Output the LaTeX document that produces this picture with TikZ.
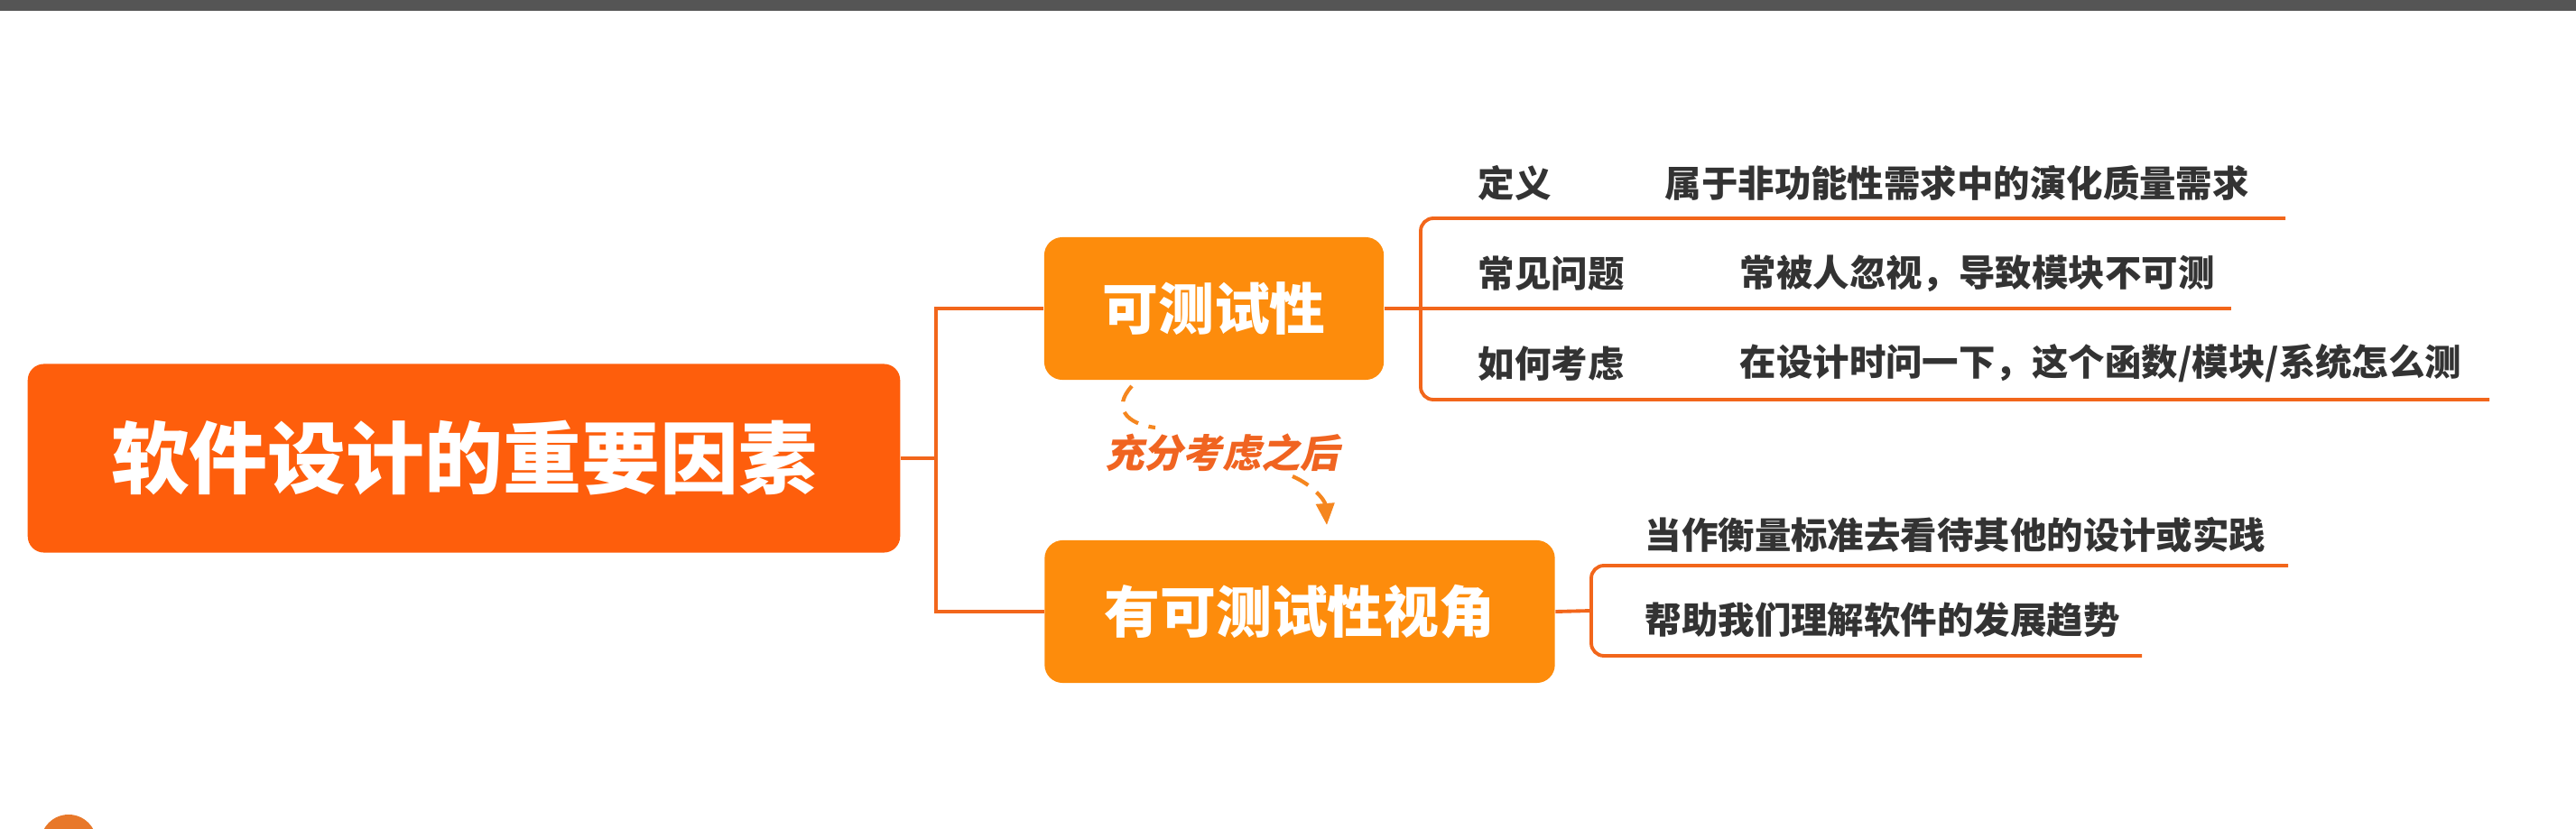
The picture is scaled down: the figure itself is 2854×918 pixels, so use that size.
\documentclass[tikz,border=0pt]{standalone}
\usepackage{fontspec}
\setmainfont{Noto Sans CJK SC}
\newfontfamily\slantcjk[FakeSlant=0.2]{Noto Sans CJK SC}
\usepackage{tikz}
\usetikzlibrary{arrows.meta}
\usepackage{xcolor}
\definecolor{rootorange}{HTML}{FE5E0C}
\definecolor{boxorange}{HTML}{FD8C0C}
\definecolor{lineorange}{HTML}{F2661B}
\definecolor{hintorange}{HTML}{F5861F}
\definecolor{labelorange}{HTML}{F06421}
\definecolor{kidgray}{HTML}{333333}
\definecolor{bargray}{HTML}{555555}
\definecolor{logoorange}{HTML}{E8782A}

\begin{document}
\begin{tikzpicture}[
      x=0.01cm, y=-0.01cm,
      rootbox/.style = {
        rectangle, rounded corners=0.18cm, fill=rootorange,
        minimum width=9.66cm, minimum height=2.09cm, inner sep=0pt,
        font=\fontsize{24.7pt}{28pt}\selectfont\bfseries, text=white
      },
      topicbox/.style = {
        rectangle, rounded corners=0.2cm, fill=boxorange,
        minimum height=1.58cm, inner sep=0pt, text=white,
        font=\fontsize{17.6pt}{20pt}\selectfont\bfseries
      },
      kid/.style = {
        anchor=west, inner sep=0pt,
        font=\fontsize{11.5pt}{14pt}\selectfont\bfseries, text=kidgray
      },
      trunk/.style = {draw=lineorange, line width=1.4pt},
      twig/.style  = {draw=lineorange, line width=1.1pt, rounded corners=0.14cm},
      hint/.style  = {draw=hintorange, line width=1.2pt, dash pattern=on 0.2cm off 0.12cm}
    ]

    \useasboundingbox (0,0) rectangle (2854,918);
    \fill[bargray] (0,0) rectangle (2854,12);
    \fill[logoorange] (76,934) circle[radius=0.31cm];

    \node[rootbox] (root) at (514,508) {软件设计的重要因素};

    \node[topicbox, minimum width=3.76cm] (testability) at (1345,342) {可测试性};
    \node[topicbox, minimum width=5.65cm] (view)        at (1440,678) {有可测试性视角};

    \draw[trunk] (root.east) -- (1037,508) coordinate (hub);
    \draw[trunk] (testability.west) -| (hub);
    \draw[trunk] (view.west) -| (hub);

    \coordinate (defEnd)   at (2532,242);
    \coordinate (probEnd)  at (2472,342);
    \coordinate (howEnd)   at (2758,443);
    \coordinate (yardEnd)  at (2535,627);
    \coordinate (trendEnd) at (2373,727);

    \draw[twig] (testability.east) -- (probEnd);
    \draw[twig] (defEnd) -- (1574,242) -- (1574,443) -- (howEnd);
    \draw[twig] (view.east) -- (1763,677);
    \draw[twig] (yardEnd) -- (1763,627) -- (1763,727) -- (trendEnd);

    \node[kid] (defKey)    at (1637,203) {定义};
    \node[kid] (defVal)    at (1844,203) {属于非功能性需求中的演化质量需求};
    \node[kid] (probKey)   at (1637,303) {常见问题};
    \node[kid] (probVal)   at (1927,303) {常被人忽视，导致模块不可测};
    \node[kid] (howKey)    at (1637,403) {如何考虑};
    \node[kid] (howVal)    at (1927,403) {在设计时问一下，这个函数/模块/系统怎么测};
    \node[kid] (yardstick) at (1822,593) {当作衡量标准去看待其他的设计或实践};
    \node[kid] (trend)     at (1822,687) {帮助我们理解软件的发展趋势};

    \node[inner sep=0pt, text=labelorange,
          font=\slantcjk\bfseries\fontsize{12.3pt}{14pt}\selectfont] (afterLbl) at (1354,502) {充分考虑之后};

    \coordinate (hintA) at (1254,428);
    \coordinate (hintB) at (1280,474);
    \coordinate (hintC) at (1432,528);
    \coordinate (hintD) at (1470,582);
    \draw[hint] (hintA) .. controls (1232,452) and (1248,470) .. (hintB);
    \draw[hint, -{Triangle[length=0.24cm, width=0.2cm]}]
      (hintC) .. controls (1455,538) and (1468,555) .. (hintD);

  \end{tikzpicture}
\end{document}
